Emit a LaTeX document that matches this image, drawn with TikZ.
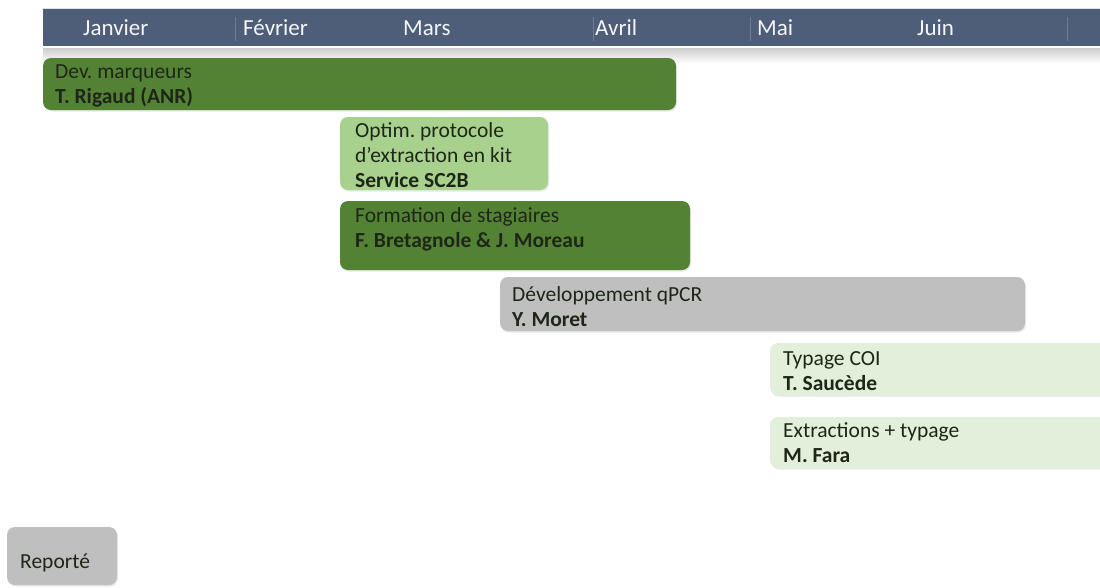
\documentclass[tikz,border=0pt]{standalone}
\usepackage{fontspec}
\setmainfont{Carlito}
\usetikzlibrary{shadows}
\definecolor{hdr}{HTML}{4E5D78}
\definecolor{hdrsep}{HTML}{6E7C95}
\definecolor{dgreen}{HTML}{548235}
\definecolor{lgreen}{HTML}{A9D18E}
\definecolor{vlgreen}{HTML}{E2EFDA}
\definecolor{greybar}{HTML}{BFBFBF}
\definecolor{txt}{HTML}{1E2618}
\begin{document}
\frenchspacing
\begin{tikzpicture}[x=1pt,y=-1pt,
  bar/.style={rounded corners=8pt, draw=none, inner sep=0pt, outer sep=0pt, anchor=north west,
    drop shadow={opacity=0.18, shadow xshift=1pt, shadow yshift=-1.5pt}},
  ln/.style={anchor=base west, inner sep=0pt, text=txt,
    font=\fontsize{21.5}{25}\selectfont},
  lnb/.style={ln, font=\fontsize{21.5}{25}\selectfont\bfseries},
  month/.style={anchor=base west, inner sep=0pt, text=white!94!hdr,
    font=\fontsize{23}{26}\selectfont},
  sep/.style={draw=hdrsep, line width=0.8pt}]
\useasboundingbox (0,0) rectangle (1100,587);
\clip (0,0) rectangle (1100,587);
% header
\fill[black!12] (43,8) rectangle (1100,9);
\node[draw=none, fill=hdr, inner sep=0pt, anchor=north west, minimum width=1060pt, minimum height=37pt] (hdr) at (43,9) {};
\shade[top color=black!20, bottom color=white] (43,48) rectangle (1100,63);
\coordinate (s1a) at (235,17); \coordinate (s1b) at (235,41);
\coordinate (s2a) at (593,17); \coordinate (s2b) at (593,41);
\coordinate (s3a) at (750,17); \coordinate (s3b) at (750,41);
\coordinate (s4a) at (1067,17); \coordinate (s4b) at (1067,41);
\draw[sep] (s1a) -- (s1b);
\draw[sep] (s2a) -- (s2b);
\draw[sep] (s3a) -- (s3b);
\draw[sep] (s4a) -- (s4b);
\node[month] (m1) at (83,35) {Janvier};
\node[month] (m2) at (243,35) {Février};
\node[month] (m3) at (403,35) {Mars};
\node[month] (m4) at (595,35) {Avril};
\node[month] (m5) at (757,35) {Mai};
\node[month] (m6) at (917,35) {Juin};
% bars
\node[bar, fill=dgreen, minimum width=633pt, minimum height=52pt] (b1) at (43,58) {};
\node[ln]  (t1a) at (55,78)  {Dev. marqueurs};
\node[lnb] (t1b) at (55,103) {T. Rigaud (ANR)};
\node[bar, fill=lgreen, minimum width=208pt, minimum height=73pt] (b2) at (340,117) {};
\node[ln]  (t2a) at (355,137) {Optim. protocole};
\node[ln]  (t2b) at (355,162) {d’extraction en kit};
\node[lnb] (t2c) at (355,187) {Service SC2B};
\node[bar, fill=dgreen, minimum width=350pt, minimum height=69pt] (b3) at (340,201) {};
\node[ln]  (t3a) at (355,222) {Formation de stagiaires};
\node[lnb] (t3b) at (355,247) {F. Bretagnole \& J. Moreau};
\node[bar, fill=greybar, minimum width=525pt, minimum height=54pt] (b4) at (500,277) {};
\node[ln]  (t4a) at (512,301) {Développement qPCR};
\node[lnb] (t4b) at (512,326) {Y. Moret};
\node[bar, fill=vlgreen, minimum width=345pt, minimum height=52pt] (b5) at (770,343) {};
\node[ln]  (t5a) at (783,365) {Typage COI};
\node[lnb] (t5b) at (783,390) {T. Saucède};
\node[bar, fill=vlgreen, minimum width=345pt, minimum height=51pt] (b6) at (770,417) {};
\node[ln]  (t6a) at (783,437) {Extractions + typage};
\node[lnb] (t6b) at (783,462) {M. Fara};
% legend
\node[bar, fill=greybar, minimum width=110pt, minimum height=58pt] (b7) at (7,527) {};
\node[ln]  (t7) at (20,568) {Reporté};
\end{tikzpicture}
\end{document}
